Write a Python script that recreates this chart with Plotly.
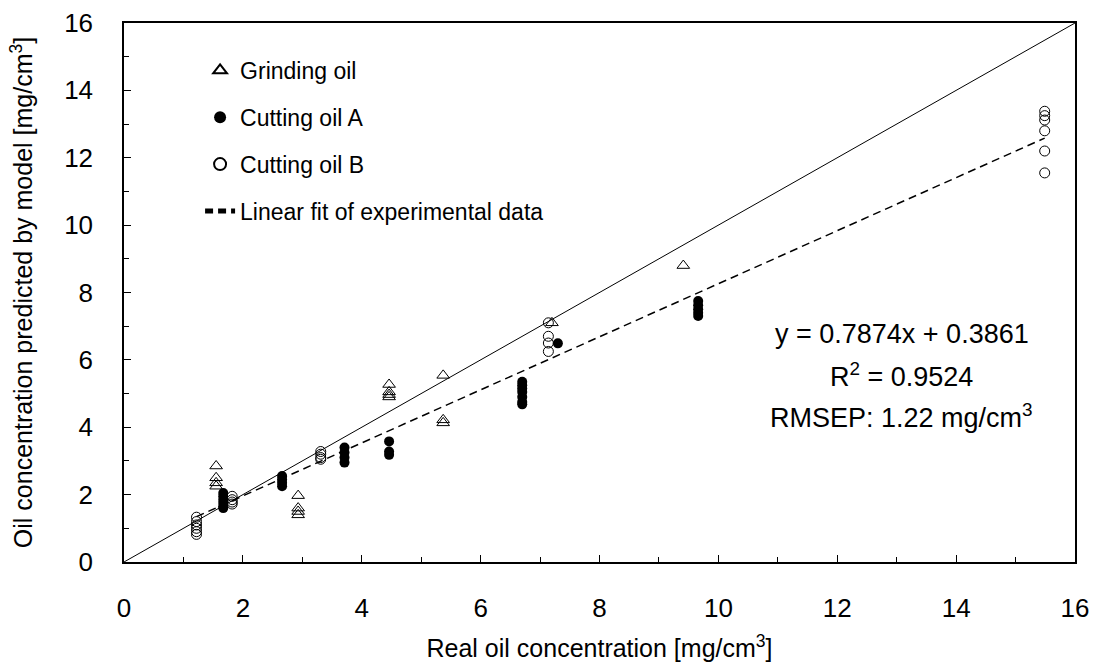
import plotly.graph_objects as go

# ---- data ----
grind_x = [1.55, 1.55, 1.55, 1.55, 2.93, 2.93, 2.93, 2.93, 4.46, 4.46, 4.46, 4.46, 5.37, 5.37, 5.37, 7.2, 9.41]
grind_y = [2.85, 2.5, 2.35, 2.25, 1.97, 1.6, 1.5, 1.4, 5.27, 5.05, 4.97, 4.9, 5.54, 4.22, 4.13, 7.1, 8.8]

cutA_x = [1.67, 1.67, 1.67, 1.67, 1.67, 1.67, 2.66, 2.66, 2.66, 2.66, 3.71, 3.71, 3.71, 3.71,
          4.46, 4.46, 4.46, 6.7, 6.7, 6.7, 6.7, 6.7, 6.7, 6.7, 7.3, 9.66, 9.66, 9.66, 9.66, 9.66]
cutA_y = [2.05, 1.95, 1.85, 1.75, 1.65, 1.6, 2.55, 2.45, 2.35, 2.25, 3.4, 3.25, 3.1, 2.95,
          3.58, 3.28, 3.18, 5.35, 5.25, 5.15, 5.05, 4.9, 4.75, 4.68, 6.49, 7.75, 7.62, 7.5, 7.4, 7.3]

cutB_x = [1.22, 1.22, 1.22, 1.22, 1.22, 1.22, 1.82, 1.82, 1.82, 1.82, 3.31, 3.31, 3.31, 3.31,
          7.14, 7.14, 7.14, 7.14, 15.49, 15.49, 15.49, 15.49, 15.49, 15.49]
cutB_y = [1.33, 1.2, 1.1, 1.0, 0.9, 0.82, 1.95, 1.85, 1.78, 1.72, 3.28, 3.2, 3.1, 3.05,
          7.1, 6.7, 6.5, 6.25, 13.38, 13.25, 13.12, 12.8, 12.2, 11.55]

fit_slope = 0.7874
fit_intercept = 0.3861
fit_x_range = [1.22, 15.49]
identity_range = [0, 16]

x_tick_vals = [0, 2, 4, 6, 8, 10, 12, 14, 16]
y_tick_vals = [0, 2, 4, 6, 8, 10, 12, 14, 16]

FONT = "Liberation Sans, Arial, sans-serif"

fig = go.Figure()

fig.add_trace(go.Scatter(
    x=grind_x, y=grind_y, mode="markers", name="Grinding oil", legendgroup="g1",
    marker=dict(symbol="triangle-up-open", size=11, color="black", line=dict(width=1, color="black")),
))
fig.add_trace(go.Scatter(
    x=cutA_x, y=cutA_y, mode="markers", name="Cutting oil A", legendgroup="g2",
    marker=dict(symbol="circle", size=10, color="black", line=dict(width=0)),
))
fig.add_trace(go.Scatter(
    x=cutB_x, y=cutB_y, mode="markers", name="Cutting oil B", legendgroup="g3",
    marker=dict(symbol="circle-open", size=10, color="black", line=dict(width=1, color="black")),
))
fig.add_trace(go.Scatter(
    x=fit_x_range, y=[fit_slope * v + fit_intercept for v in fit_x_range],
    mode="lines", name="Linear fit of experimental data", legendgroup="g4",
    line=dict(color="black", width=1.5, dash="8px,5px"),
))
fig.add_trace(go.Scatter(
    x=identity_range, y=identity_range, mode="lines", showlegend=False,
    line=dict(color="black", width=1),
))

axis_common = dict(
    range=[0, 16], dtick=2, tick0=0, showgrid=False, zeroline=False,
    showline=True, linecolor="black", linewidth=1.5, mirror=True,
    ticks="inside", ticklen=7, tickwidth=1, tickcolor="black",
    minor=dict(dtick=1, ticks="inside", ticklen=5, tickwidth=1, tickcolor="black"),
    tickfont=dict(family=FONT, size=26, color="black"),
    automargin=False,
)

fig.update_xaxes(**axis_common, tickvals=x_tick_vals,
                 title=dict(text="Real oil concentration [mg/cm<sup>3</sup>]",
                            font=dict(family=FONT, size=25, color="black"), standoff=18),
                 ticklabelstandoff=22)
fig.update_yaxes(**axis_common, tickvals=y_tick_vals,
                 title=dict(text="Oil concentration predicted by model [mg/cm<sup>3</sup>]",
                            font=dict(family=FONT, size=25, color="black"), standoff=24),
                 ticklabelstandoff=24)

ann_font = dict(family=FONT, size=27, color="black")
fig.add_annotation(x=0.818, y=0.4227, xref="paper", yref="paper", showarrow=False,
                   text="y = 0.7874x + 0.3861", font=ann_font, xanchor="center", yanchor="middle")
fig.add_annotation(x=0.818, y=0.3466, xref="paper", yref="paper", showarrow=False,
                   text="R<sup>2</sup> = 0.9524", font=ann_font, xanchor="center", yanchor="middle")
fig.add_annotation(x=0.818, y=0.2705, xref="paper", yref="paper", showarrow=False,
                   text="RMSEP: 1.22 mg/cm<sup>3</sup>", font=ann_font, xanchor="center", yanchor="middle")

fig.update_layout(
    width=1093, height=666,
    margin=dict(l=124, r=18, t=23, b=104),
    paper_bgcolor="white", plot_bgcolor="white",
    font=dict(family=FONT, color="black"),
    legend=dict(x=0.08, y=0.952, xanchor="left", yanchor="top",
                font=dict(family=FONT, size=23, color="black"),
                bgcolor="rgba(0,0,0,0)", traceorder="grouped", tracegroupgap=14,
                itemsizing="constant"),
)

fig.write_html("out.html")
